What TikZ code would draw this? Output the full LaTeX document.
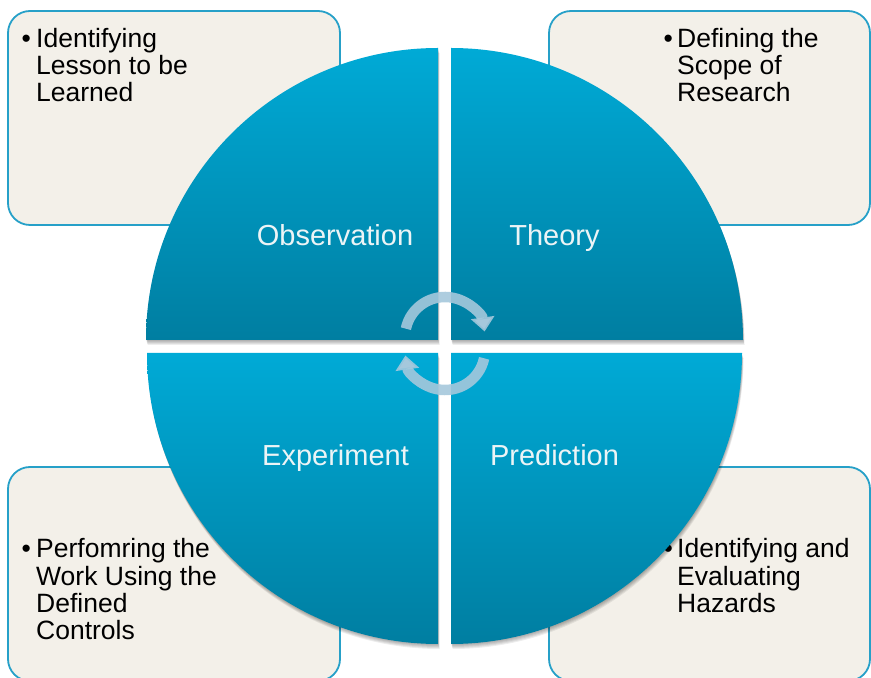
\documentclass[tikz,border=0pt]{standalone}
\usepackage{fontspec}
\setmainfont{Liberation Sans}
\usetikzlibrary{arrows.meta}
\definecolor{boxfill}{RGB}{243,240,233}
\definecolor{boxline}{RGB}{38,160,200}
\definecolor{qtop}{RGB}{0,170,214}
\definecolor{qbot}{RGB}{0,126,161}
\definecolor{arrowc}{RGB}{165,200,220}
\definecolor{labelc}{RGB}{236,244,246}
\newcommand\myQuarters[1]{%
  \path[#1] (438,338) -- (146,338) arc[start angle=180,end angle=90,radius=292] -- cycle;
  \path[#1] (451,338) -- (451,630) arc[start angle=90,end angle=0,radius=292] -- cycle;
  \path[#1] (438,325) -- (438,34) arc[start angle=270,end angle=180,radius=291] -- cycle;
  \path[#1] (451,325) -- (742,325) arc[start angle=0,end angle=-90,radius=291] -- cycle;}
\begin{document}
\begin{tikzpicture}[x=1pt,y=1pt,
  infobox/.style={draw=boxline, line width=1.8pt, fill=boxfill, rounded corners=22pt, inner sep=0, minimum height=214pt},
  quarter/.style={top color=qtop, bottom color=qbot},
  qshadow/.style={fill=black, fill opacity=0.07},
  qlabel/.style={text=labelc, font=\fontsize{29}{34}\selectfont, inner sep=0, anchor=base},
  bline/.style={anchor=base west, inner sep=0, font=\fontsize{26.5}{27}\selectfont},
  cyc/.style={line width=10.5pt, draw=arrowc, draw opacity=0.9, -{Triangle[width=23pt,length=14pt]}}
]
\path[use as bounding box] (0,0) rectangle (871,678);
\clip (0,0) rectangle (871,678);

% info boxes
\node[infobox, minimum width=332pt] (tlbox) at (174,560) {};
\node[infobox, minimum width=321pt] (trbox) at (709.5,560) {};
\node[infobox, minimum width=332pt] (blbox) at (174,104) {};
\node[infobox, minimum width=321pt] (brbox) at (709.5,104) {};

% box texts
\node[bline] (tlb) at (21.4,630) {•};
\node[bline] (tl1) at (36,630) {Identifying};
\node[bline] (tl2) at (36,603) {Lesson to be};
\node[bline] (tl3) at (36,576) {Learned};

\node[bline] (trb) at (663.4,630) {•};
\node[bline] (tr1) at (677,630) {Defining the};
\node[bline] (tr2) at (677,603) {Scope of};
\node[bline] (tr3) at (677,576) {Research};

\node[bline] (blb) at (21.4,120) {•};
\node[bline] (bl1) at (36,120) {Perfomring the};
\node[bline] (bl2) at (36,92) {Work Using the};
\node[bline] (bl3) at (36,65) {Defined};
\node[bline] (bl4) at (36,38) {Controls};

\node[bline] (brb) at (663.4,120) {•};
\node[bline] (br1) at (677,120) {Identifying and};
\node[bline] (br2) at (677,92) {Evaluating};
\node[bline] (br3) at (677,65) {Hazards};

% soft shadows of the quarters
\foreach \dx/\dy in {0.3/-1, 0.6/-2, 0.9/-3, 1.2/-4, 1.5/-5} {
  \begin{scope}[shift={(\dx,\dy)}]
    \myQuarters{qshadow}
  \end{scope}
}
% circle quarters
\myQuarters{quarter}

% labels
\node[qlabel] (obs) at (335,432.4) {Observation};
\node[qlabel] (the) at (554.5,432.4) {Theory};
\node[qlabel] (exp) at (335.5,212.5) {Experiment};
\node[qlabel] (pre) at (554.5,212.5) {Prediction};

% cycle arrows
\coordinate (c1) at (445,341);
\coordinate (c2) at (445,328);
\draw[cyc] (c1) ++(168:40) arc[start angle=168, end angle=8, radius=40];
\draw[cyc] (c2) ++(-12:40) arc[start angle=-12, end angle=-172, radius=40];
\end{tikzpicture}
\end{document}
